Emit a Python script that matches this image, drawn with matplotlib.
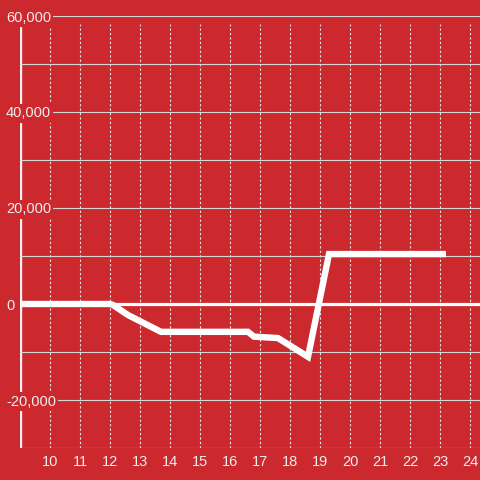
import matplotlib
matplotlib.use("Agg")
import matplotlib.pyplot as plt
from matplotlib.ticker import FixedLocator, FixedFormatter

# data
hours = [9.0, 12.0, 12.1, 12.6, 13.7, 16.6, 16.8, 17.6, 18.6, 19.3, 23.2]
values = [0, 0, -200, -2300, -5800, -5800, -6800, -7100, -11000, 10400, 10400]

x_ticks = list(range(10, 25))
y_ticks = list(range(-30000, 60001, 10000))
y_labels = ["", "-20,000", "", "0", "", "20,000", "", "40,000", "", "60,000"]

bg = "#cc292e"
txt = "#eeeeee"

plt.rcParams['font.family'] = ['Liberation Sans', 'DejaVu Sans']

fig = plt.figure(figsize=(4.8, 4.8), dpi=100, facecolor=bg)
ax = fig.add_axes([20/480, 32/480, 460/480, 432/480], facecolor=bg)
ax.set_xlim(9, 9 + 460/30)
ax.set_ylim(-30000, 60000)

for s in ax.spines.values():
    s.set_visible(False)

ax.set_axisbelow(True)

# horizontal grid (solid) from the y axis
ax.yaxis.set_major_locator(FixedLocator(y_ticks))
ax.yaxis.set_major_formatter(FixedFormatter(y_labels))
ax.grid(axis='y', color='#d6d6d6', lw=0.8)
ax.tick_params(axis='y', length=0, pad=10, labelsize=10.5, labelcolor=txt)
for lab in ax.get_yticklabels():
    lab.set_horizontalalignment('left')
    lab.set_bbox(dict(facecolor=bg, edgecolor='none', pad=1.5))

# x axis ticks, dotted vertical grid
ax.set_xticks(x_ticks)
ax.tick_params(axis='x', length=0, pad=5, labelsize=10.5, labelcolor=txt)
top = (448 - 24) / 432
for h in x_ticks:
    ax.axvline(h, ymin=0, ymax=top, color='#e6e6e6', lw=0.8,
               ls=(0, (2, 2)), zorder=0.3)

# left axis line
ax.axvline(9, ymin=0, ymax=top, color='#f2f2f2', lw=2.4, zorder=0.4)

# zero line
ax.axhline(0, color='white', lw=2.3, zorder=1)

ax.plot(hours, values, color='white', lw=4.6, solid_joinstyle='miter',
        solid_capstyle='butt', zorder=3)

fig.savefig("out.png", dpi=100, facecolor=bg)
